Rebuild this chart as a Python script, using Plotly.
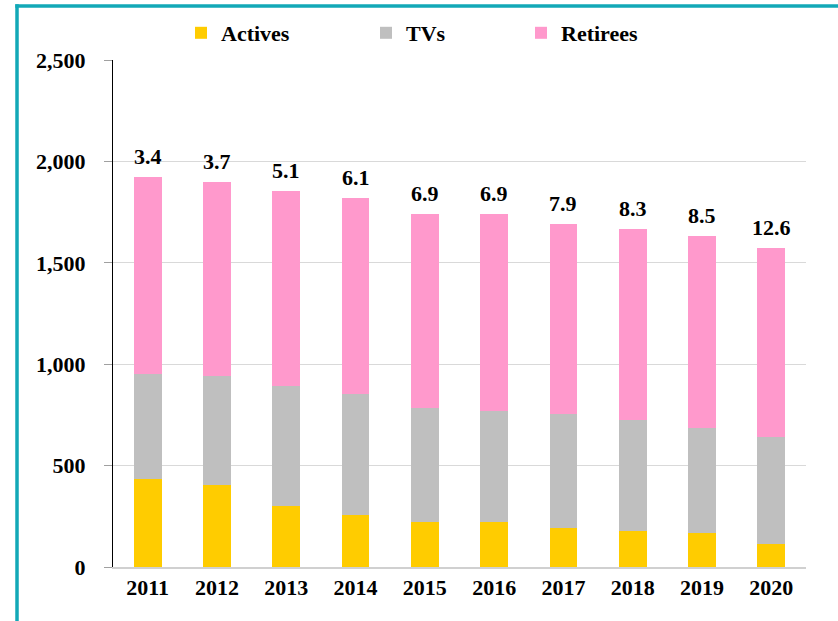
import plotly.graph_objects as go

years = ["2011", "2012", "2013", "2014", "2015", "2016", "2017", "2018", "2019", "2020"]
actives = [433, 405, 302, 256, 220, 220, 190, 177, 167, 115]
tvs = [519, 536, 591, 599, 566, 547, 565, 549, 518, 525]
retirees = [969, 956, 961, 963, 956, 976, 936, 942, 946, 931]
ratio_labels = ["3.4", "3.7", "5.1", "6.1", "6.9", "6.9", "7.9", "8.3", "8.5", "12.6"]

FONT = "Liberation Serif"
W, H = 838, 621
ML, MR, MT, MB = 113, 32, 60, 54

fig = go.Figure()
fig.add_trace(go.Bar(name="Actives", x=years, y=actives, legend="legend",
                     marker=dict(color="#FFCC00", line=dict(width=0))))
fig.add_trace(go.Bar(name="TVs", x=years, y=tvs, legend="legend2",
                     marker=dict(color="#BFBFBF", line=dict(width=0))))
fig.add_trace(go.Bar(name="Retirees", x=years, y=retirees, legend="legend3",
                     marker=dict(color="#FF99CC", line=dict(width=0))))

totals = [a + t + r for a, t, r in zip(actives, tvs, retirees)]
for i, (tot, lab) in enumerate(zip(totals, ratio_labels)):
    fig.add_annotation(x=i, y=tot, xref="x", yref="y", text="<b>%s</b>" % lab, showarrow=False,
                       yanchor="bottom", yshift=6,
                       font=dict(family=FONT, size=22, color="black"))

pw = W - ML - MR
ph = H - MT - MB
def px_x(p):
    return (p - ML) / pw
def px_y(p):
    return (H - MB - p) / ph

# outer teal frame (left and top edges visible)
fig.add_shape(type="line", xref="paper", yref="paper",
              x0=px_x(17), x1=px_x(17), y0=px_y(4.3), y1=px_y(640),
              line=dict(color="#12A8B7", width=3.5))
fig.add_shape(type="line", xref="paper", yref="paper",
              x0=px_x(15.3), x1=px_x(860), y0=px_y(6), y1=px_y(6),
              line=dict(color="#12A8B7", width=3.5))

legfont = dict(family=FONT, size=22, color="black", weight="bold")
def leg(xpx):
    return dict(orientation="h", x=px_x(xpx), xanchor="left", y=px_y(33), yanchor="middle",
                font=legfont, bgcolor="rgba(0,0,0,0)", borderwidth=0)

fig.update_layout(
    width=W, height=H,
    margin=dict(l=ML, r=MR, t=MT, b=MB),
    barmode="stack", bargap=0.6,
    plot_bgcolor="white", paper_bgcolor="white",
    font=dict(family=FONT, size=22, color="black"),
    legend=leg(181), legend2=leg(366), legend3=leg(521),
    showlegend=True,
)
fig.update_xaxes(type="category", range=[-0.5, len(years) - 0.5],
                 showline=True, linecolor="#D0D0D0", linewidth=1.5, ticks="",
                 tickfont=legfont, showgrid=False)
fig.update_yaxes(range=[0, 2500], tickvals=[0, 500, 1000, 1500, 2000, 2500],
                 ticktext=["0", "500", "1,000", "1,500", "2,000", "2,500"],
                 showline=True, linecolor="black", linewidth=1.2,
                 ticks="outside", ticklen=8, tickcolor="#A0A0A0", tickwidth=1,
                 ticklabelstandoff=14,
                 showgrid=True, gridcolor="#D9D9D9", gridwidth=1, zeroline=False,
                 tickfont=legfont)

fig.write_html("out.html", config={"displayModeBar": False},
               post_script="document.body.style.margin='0';document.body.style.overflow='hidden';")
